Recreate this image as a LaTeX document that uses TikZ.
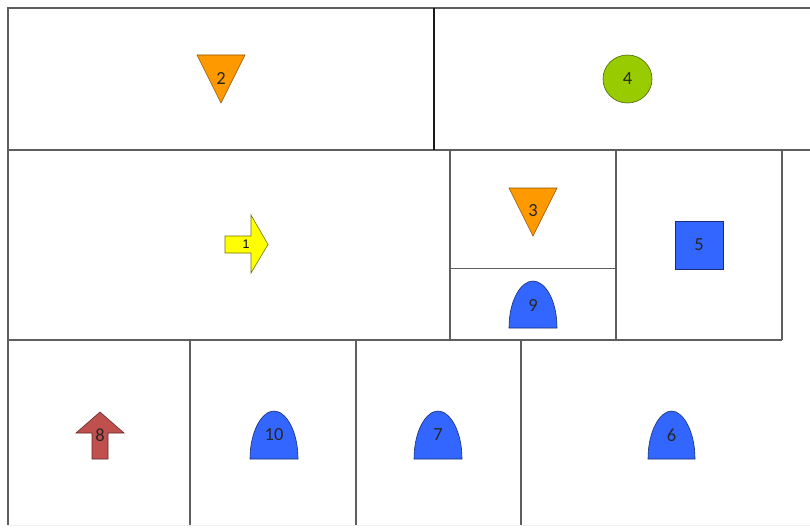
\documentclass[tikz,border=0pt]{standalone}
\usepackage{fontspec}
\setmainfont{Carlito}
\newfontfamily\arialfont{Liberation Sans}
\definecolor{lineg}{HTML}{5E5E5E}
\definecolor{orng}{HTML}{FF9900}
\definecolor{grn}{HTML}{99CC00}
\definecolor{blu}{HTML}{3366FF}
\definecolor{yel}{HTML}{FFFF00}
\definecolor{redd}{HTML}{C0504D}
\begin{document}
\begin{tikzpicture}[x=1pt,y=-1pt,
  frame/.style={draw=lineg,line width=1.2pt},
  tri/.style={fill=orng,draw=orng!55!black,line width=0.6pt},
  bell/.style={fill=blu,draw=blu!45!black,line width=0.6pt},
  lab/.style={font=\fontsize{18.5}{18.5}\selectfont,text=black!85,inner sep=0pt}]
\useasboundingbox (0,0) rectangle (810,527);
\fill[white] (0,0) rectangle (810,527);
% frames
\draw[frame] (812,8) -- (8,8) -- (8,525);
\draw[draw=black!6,line width=0.8pt] (8,525) -- (812,525);
\draw[frame] (8,150) -- (812,150);
\draw[frame,draw=black!90] (434,8) -- (434,150);
\draw[frame] (8,340) -- (782,340);
\draw[frame] (450,150) -- (450,340);
\draw[frame] (616,150) -- (616,340);
\draw[frame] (782,150) -- (782,340);
\draw[frame] (450,268.7) -- (616,268.7);
\draw[frame] (190,340) -- (190,525);
\draw[frame] (356,340) -- (356,525);
\draw[frame] (521,340) -- (521,525);
% shape 2
\draw[tri] (197,55) -- (245,55) -- (221,103) -- cycle;
\node[lab] (n2) at (221,78) {2};
% shape 4
\draw[fill=grn,draw=grn!50!black,line width=0.6pt] (627.5,79) ellipse [x radius=24.5,y radius=24];
\node[lab] (n4) at (627.5,79) {4};
% shape 1
\draw[fill=yel,draw=yel!45!black,line width=0.6pt] (225,236) -- (251,236) -- (251,215) -- (268,244.5) -- (251,273) -- (251,253) -- (225,253) -- cycle;
\node[font=\arialfont\fontsize{12.5}{12.5}\selectfont,inner sep=0pt] (n1) at (246,244.5) {1};
% shape 3
\draw[tri] (509,188) -- (557,188) -- (533,236) -- cycle;
\node[lab] (n3) at (533,211) {3};
% shape 5
\draw[fill=blu,draw=blu!45!black,line width=0.6pt] (675,221) rectangle (723,269);
\node[lab] (n5) at (699,245) {5};
% bells
\draw[bell] (509,328) .. controls (509,300) and (521,281) .. (533,281) .. controls (545,281) and (557,300) .. (557,328) -- cycle;
\node[lab] (n9) at (533,305) {9};
\draw[bell] (250,459) .. controls (250,431) and (262,411) .. (274,411) .. controls (286,411) and (298,431) .. (298,459) -- cycle;
\node[lab] (n10) at (274,435) {10};
\draw[bell] (414,459) .. controls (414,431) and (426,411) .. (438,411) .. controls (450,411) and (462,431) .. (462,459) -- cycle;
\node[lab] (n7) at (438,435) {7};
\draw[bell] (648,459) .. controls (648,431) and (660,411) .. (671.5,411) .. controls (683,411) and (695,431) .. (695,459) -- cycle;
\node[lab] (n6) at (671.5,435) {6};
% shape 8
\draw[fill=redd,draw=redd!50!black,line width=0.6pt] (92,459) -- (92,433) -- (76,433) -- (100,412) -- (124,433) -- (108,433) -- (108,459) -- cycle;
\node[lab] (n8) at (100,435) {8};
\end{tikzpicture}
\end{document}
